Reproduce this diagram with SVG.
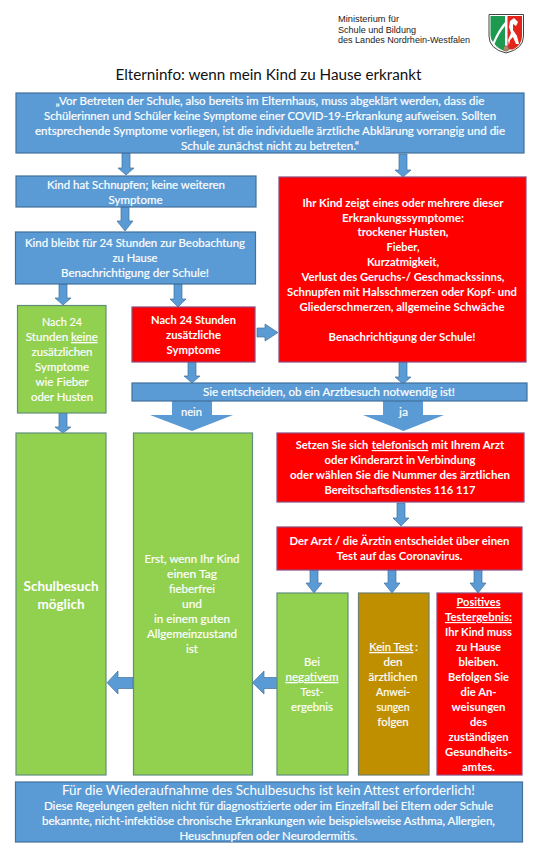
<svg xmlns="http://www.w3.org/2000/svg" width="549" height="849" viewBox="0 0 549 849">
<style>
text{font-family:Lato,"Open Sans","Liberation Sans",sans-serif;text-anchor:middle;fill:#fff;font-size:11.8px;stroke:#fff;stroke-width:.18}
.b{font-weight:700;stroke-width:0}
.u{text-decoration:underline}
.s{text-anchor:start}
.m{font-family:"Liberation Sans",sans-serif;font-size:8.2px;fill:#222;stroke:none;text-anchor:start}
.blue{fill:#5B9BD5;stroke:#41719C;stroke-width:1.2}
.green{fill:#92D050;stroke:#5F8F7A;stroke-width:1.2}
.red{fill:#FF0000;stroke:#8A4A7E;stroke-width:1.2}
.brown{fill:#BF8F00;stroke:#6F7F6A;stroke-width:1.2}
.arrow{fill:#5B9BD5;stroke:#41719C;stroke-width:.7}
</style>
<rect width="549" height="849" fill="#fff"/>
<g id="header">
<text class="m" x="338" y="22" textLength="61" lengthAdjust="spacingAndGlyphs">Ministerium für</text>
<text class="m" x="338" y="32.500" textLength="78" lengthAdjust="spacingAndGlyphs">Schule und Bildung</text>
<text class="m" x="338" y="43" textLength="132" lengthAdjust="spacingAndGlyphs">des Landes Nordrhein-Westfalen</text>
<path d="M489 14.500H523.500V36Q523.500 49 506 53Q489 49 489 36Z" fill="#fff" stroke="#444" stroke-width="1"/>
<path d="M490.500 16H505V22Q498 30 493 42Q490.500 39 490.500 35Z" fill="#1E9A50"/>
<path d="M505 26V51Q498 49 494.500 44Q499 33 505 26Z" fill="#1E9A50"/>
<path d="M507.500 16H522V36Q522 45 513 49.500H507.500Z" fill="#E3241B"/>
<path d="M510 21L514 18L518 22L516 26L513 24L513 30L517 36L519 44L516 44L513 37L510 40L509 45L508 40L511 33L509 27Z" fill="#fff"/>
<circle cx="506" cy="48.500" r="2.800" fill="#B08A60" stroke="#555" stroke-width=".5"/>
<text x="268.500" y="80" textLength="306" lengthAdjust="spacingAndGlyphs" style="fill:#111;stroke:none;font-size:15.500px">Elterninfo: wenn mein Kind zu Hause erkrankt</text>
</g>
<g id="connectors">
<path class="arrow" d="M122 153H130V168H134L126 175L118 168H122Z"/>
<path class="arrow" d="M399 154H407V170H411L403 177L395 170H399Z"/>
<path class="arrow" d="M121 207H129V221H133L125 231L117 221H121Z"/>
<path class="arrow" d="M59 284H67V298H71L63 305L55 298H59Z"/>
<path class="arrow" d="M174 284H182V299H186L178 307L170 299H174Z"/>
<path class="arrow" d="M257 328H265V324L278 332.500L265 341V337H257Z"/>
<path class="arrow" d="M188 362H196V376H200L192 383L184 376H188Z"/>
<path class="arrow" d="M399 362H407V377H411L403 384L395 377H399Z"/>
<path class="arrow" d="M59 413H67V427H71L63 433L55 427H59Z"/>
<path class="arrow" d="M397 503H405V518H409L401 526L393 518H397Z"/>
<path class="arrow" d="M310 570H318V583H322L314 593L306 583H310Z"/>
<path class="arrow" d="M388 570H396V583H400L392 593L384 583H388Z"/>
<path class="arrow" d="M474 570H482V583H486L478 593L470 583H474Z"/>
<path class="arrow" d="M278 677.500H264V671L252.500 682.700L264 694V688.500H278Z"/>
<path class="arrow" d="M133 677.500H118V671L107 682.700L118 694V688.500H133Z"/>
<path d="M172 401H212V415H233L192 431L150 415H172Z" fill="#5B9BD5"/>
<path d="M383 401H423V415H444L403.500 431L363 415H383Z" fill="#5B9BD5"/>
<text x="191.500" y="416" textLength="21" lengthAdjust="spacingAndGlyphs">nein</text>
<text x="403.500" y="416" textLength="9" lengthAdjust="spacingAndGlyphs">ja</text>
</g>
<g id="node-intro">
<rect class="blue" x="16" y="93" width="508" height="60"/>
<text x="270" y="105" textLength="429" lengthAdjust="spacingAndGlyphs">„Vor Betreten der Schule, also bereits im Elternhaus, muss abgeklärt werden, dass die</text>
<text x="270" y="120" textLength="452" lengthAdjust="spacingAndGlyphs">Schülerinnen und Schüler keine Symptome einer COVID-19-Erkrankung aufweisen. Sollten</text>
<text x="270" y="135" textLength="470" lengthAdjust="spacingAndGlyphs">entsprechende Symptome vorliegen, ist die individuelle ärztliche Abklärung vorrangig und die</text>
<text x="270" y="150" textLength="178" lengthAdjust="spacingAndGlyphs">Schule zunächst nicht zu betreten.“</text>
</g>
<g id="node-schnupfen">
<rect class="blue" x="16" y="176" width="240" height="31"/>
<text x="136" y="189" textLength="178" lengthAdjust="spacingAndGlyphs">Kind hat Schnupfen; keine weiteren</text>
<text x="135.500" y="204" textLength="54" lengthAdjust="spacingAndGlyphs">Symptome</text>
</g>
<g id="node-symptome">
<rect class="red" x="279" y="177" width="247" height="185"/>
<text class="b" x="403" y="207" textLength="201" lengthAdjust="spacingAndGlyphs">Ihr Kind zeigt eines oder mehrere dieser</text>
<text class="b" x="403" y="222" textLength="122" lengthAdjust="spacingAndGlyphs">Erkrankungssymptome:</text>
<text class="b" x="403" y="236" textLength="91" lengthAdjust="spacingAndGlyphs">trockener Husten,</text>
<text class="b" x="403" y="251" textLength="33" lengthAdjust="spacingAndGlyphs">Fieber,</text>
<text class="b" x="403" y="266" textLength="72" lengthAdjust="spacingAndGlyphs">Kurzatmigkeit,</text>
<text class="b" x="403" y="281" textLength="203" lengthAdjust="spacingAndGlyphs">Verlust des Geruchs-/ Geschmackssinns,</text>
<text class="b" x="402" y="296" textLength="230" lengthAdjust="spacingAndGlyphs">Schnupfen mit Halsschmerzen oder Kopf- und</text>
<text class="b" x="402" y="311" textLength="205" lengthAdjust="spacingAndGlyphs">Gliederschmerzen, allgemeine Schwäche</text>
<text class="b" x="402" y="341" textLength="147" lengthAdjust="spacingAndGlyphs">Benachrichtigung der Schule!</text>
</g>
<g id="node-beobachtung">
<rect class="blue" x="15.500" y="232" width="240" height="52"/>
<text x="135" y="247" textLength="220" lengthAdjust="spacingAndGlyphs">Kind bleibt für 24 Stunden zur Beobachtung</text>
<text x="135" y="262" textLength="45" lengthAdjust="spacingAndGlyphs">zu Hause</text>
<text x="135" y="277" textLength="148" lengthAdjust="spacingAndGlyphs">Benachrichtigung der Schule!</text>
</g>
<g id="node-keine-symptome">
<rect class="green" x="17.500" y="305.500" width="88.500" height="107.500"/>
<text x="62" y="326" textLength="40" lengthAdjust="spacingAndGlyphs">Nach 24</text>
<text class="s" x="25.700" y="341" textLength="42.500" lengthAdjust="spacingAndGlyphs">Stunden</text>
<text class="s u" x="71" y="341" textLength="26.700" lengthAdjust="spacingAndGlyphs">keine</text>
<text x="62" y="356" textLength="61" lengthAdjust="spacingAndGlyphs">zusätzlichen</text>
<text x="62" y="371" textLength="54" lengthAdjust="spacingAndGlyphs">Symptome</text>
<text x="62" y="386" textLength="53" lengthAdjust="spacingAndGlyphs">wie Fieber</text>
<text x="62" y="401" textLength="62" lengthAdjust="spacingAndGlyphs">oder Husten</text>
</g>
<g id="node-zusaetzlich">
<rect class="red" x="132" y="307" width="123" height="55"/>
<text class="b" x="193.500" y="324" textLength="85" lengthAdjust="spacingAndGlyphs">Nach 24 Stunden</text>
<text class="b" x="193.500" y="339" textLength="55" lengthAdjust="spacingAndGlyphs">zusätzliche</text>
<text class="b" x="193.500" y="354" textLength="54" lengthAdjust="spacingAndGlyphs">Symptome</text>
</g>
<g id="node-entscheidung">
<rect class="blue" x="132" y="383" width="395" height="18"/>
<text x="329" y="396" textLength="252" lengthAdjust="spacingAndGlyphs">Sie entscheiden, ob ein Arztbesuch notwendig ist!</text>
</g>
<g id="node-schulbesuch">
<rect class="green" x="16" y="433" width="90" height="342"/>
<text class="b" x="61" y="591" textLength="75" lengthAdjust="spacingAndGlyphs" style="font-size:13.500px">Schulbesuch</text>
<text class="b" x="61" y="609" textLength="47" lengthAdjust="spacingAndGlyphs" style="font-size:13.500px">möglich</text>
</g>
<g id="node-fieberfrei">
<rect class="green" x="133.500" y="433" width="119" height="342"/>
<text x="192" y="563" textLength="95" lengthAdjust="spacingAndGlyphs">Erst, wenn Ihr Kind</text>
<text x="192" y="578" textLength="50" lengthAdjust="spacingAndGlyphs">einen Tag</text>
<text x="192" y="593" textLength="46" lengthAdjust="spacingAndGlyphs">fieberfrei</text>
<text x="192" y="608" textLength="20" lengthAdjust="spacingAndGlyphs">und</text>
<text x="192" y="623" textLength="76" lengthAdjust="spacingAndGlyphs">in einem guten</text>
<text x="192" y="638" textLength="90" lengthAdjust="spacingAndGlyphs">Allgemeinzustand</text>
<text x="192" y="653" textLength="12" lengthAdjust="spacingAndGlyphs">ist</text>
</g>
<g id="node-telefon">
<rect class="red" x="277" y="433" width="247" height="69"/>
<text class="b s" x="295.700" y="449" textLength="72.600" lengthAdjust="spacingAndGlyphs">Setzen Sie sich</text>
<text class="b s u" x="371.700" y="449" textLength="56.600" lengthAdjust="spacingAndGlyphs">telefonisch</text>
<text class="b s" x="431.300" y="449" textLength="73" lengthAdjust="spacingAndGlyphs">mit Ihrem Arzt</text>
<text class="b" x="400" y="464" textLength="151" lengthAdjust="spacingAndGlyphs">oder Kinderarzt in Verbindung</text>
<text class="b" x="400" y="479" textLength="220" lengthAdjust="spacingAndGlyphs">oder wählen Sie die Nummer des ärztlichen</text>
<text class="b" x="400" y="494" textLength="151" lengthAdjust="spacingAndGlyphs">Bereitschaftsdienstes 116 117</text>
</g>
<g id="node-test">
<rect class="red" x="277" y="527" width="245" height="43"/>
<text class="b" x="399.500" y="545" textLength="220" lengthAdjust="spacingAndGlyphs">Der Arzt / die Ärztin entscheidet über einen</text>
<text class="b" x="399.500" y="560" textLength="126" lengthAdjust="spacingAndGlyphs">Test auf das Coronavirus.</text>
</g>
<g id="node-negativ">
<rect class="green" x="277" y="593" width="71" height="182"/>
<text x="312" y="666" textLength="16" lengthAdjust="spacingAndGlyphs">Bei</text>
<text class="u" x="312" y="681" textLength="53" lengthAdjust="spacingAndGlyphs">negativem</text>
<text x="312" y="696" textLength="23" lengthAdjust="spacingAndGlyphs">Test-</text>
<text x="312" y="711" textLength="42" lengthAdjust="spacingAndGlyphs">ergebnis</text>
</g>
<g id="node-kein-test">
<rect class="brown" x="358.500" y="593" width="70.500" height="182"/>
<text class="s u" x="369.300" y="651" style="font-size:11px" textLength="44" lengthAdjust="spacingAndGlyphs">Kein Test</text>
<text class="s" x="415" y="651">:</text>
<text x="393" y="666" textLength="19" lengthAdjust="spacingAndGlyphs">den</text>
<text x="393" y="681" textLength="49" lengthAdjust="spacingAndGlyphs">ärztlichen</text>
<text x="393" y="696" textLength="34" lengthAdjust="spacingAndGlyphs">Anwei-</text>
<text x="393" y="711" textLength="33" lengthAdjust="spacingAndGlyphs">sungen</text>
<text x="393" y="726" textLength="31" lengthAdjust="spacingAndGlyphs">folgen</text>
</g>
<g id="node-positiv">
<rect class="red" x="437" y="593" width="85" height="182"/>
<text class="b u" x="478.500" y="606" textLength="44" lengthAdjust="spacingAndGlyphs">Positives</text>
<text class="b u" x="478.500" y="621" textLength="67" lengthAdjust="spacingAndGlyphs">Testergebnis:</text>
<text class="b" x="478.500" y="636" textLength="67" lengthAdjust="spacingAndGlyphs">Ihr Kind muss</text>
<text class="b" x="478.500" y="651" textLength="45" lengthAdjust="spacingAndGlyphs">zu Hause</text>
<text class="b" x="478.500" y="666" textLength="40" lengthAdjust="spacingAndGlyphs">bleiben.</text>
<text class="b" x="478.500" y="681" textLength="61" lengthAdjust="spacingAndGlyphs">Befolgen Sie</text>
<text class="b" x="478.500" y="696" textLength="36" lengthAdjust="spacingAndGlyphs">die An-</text>
<text class="b" x="478.500" y="711" textLength="54" lengthAdjust="spacingAndGlyphs">weisungen</text>
<text class="b" x="478.500" y="726" textLength="17" lengthAdjust="spacingAndGlyphs">des</text>
<text class="b" x="478.500" y="741" textLength="60" lengthAdjust="spacingAndGlyphs">zuständigen</text>
<text class="b" x="478.500" y="756" textLength="67" lengthAdjust="spacingAndGlyphs">Gesundheits-</text>
<text class="b" x="478.500" y="771" textLength="33" lengthAdjust="spacingAndGlyphs">amtes.</text>
</g>
<g id="node-attest">
<rect class="blue" x="15.500" y="782" width="507" height="60"/>
<text x="268.500" y="795" textLength="413" lengthAdjust="spacingAndGlyphs" style="font-size:13.500px;stroke:none">Für die Wiederaufnahme des Schulbesuchs ist kein Attest erforderlich!</text>
<text x="268.500" y="810" textLength="449" lengthAdjust="spacingAndGlyphs">Diese Regelungen gelten nicht für diagnostizierte oder im Einzelfall bei Eltern oder Schule</text>
<text x="268.500" y="825" textLength="453" lengthAdjust="spacingAndGlyphs">bekannte, nicht-infektiöse chronische Erkrankungen wie beispielsweise Asthma, Allergien,</text>
<text x="268.500" y="840" textLength="178" lengthAdjust="spacingAndGlyphs">Heuschnupfen oder Neurodermitis.</text>
</g>
</svg>
